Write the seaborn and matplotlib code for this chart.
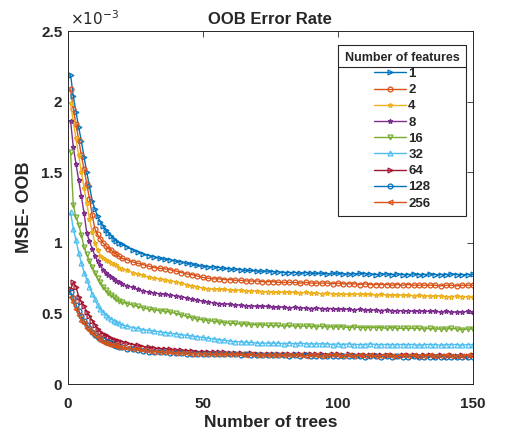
import pandas as pd
import seaborn as sns
import matplotlib.pyplot as plt
from matplotlib.lines import Line2D

# number of trees (dense at start, every 2nd tree afterwards)
trees = list(range(1, 21)) + list(range(22, 151, 2))

features = ['1', '2', '4', '8', '16', '32', '64', '128', '256']

# OOB MSE values in units of 1e-3
mse_1 = [2.19, 2.04, 1.93, 1.82, 1.72, 1.61, 1.50, 1.40, 1.30, 1.24, 1.19, 1.15, 1.12, 1.09, 1.07, 1.05, 1.03, 1.01, 1.00, 0.99,
         0.97, 0.95, 0.935, 0.92, 0.91, 0.90, 0.89, 0.885, 0.88, 0.87, 0.865, 0.855, 0.85,
         0.84, 0.835, 0.83, 0.83, 0.825, 0.82, 0.815, 0.815, 0.81, 0.805, 0.805, 0.80, 0.80,
         0.80, 0.795, 0.795, 0.79, 0.79, 0.79, 0.785, 0.79, 0.785, 0.785, 0.785, 0.78, 0.785,
         0.785, 0.78, 0.78, 0.78, 0.785, 0.78, 0.78, 0.775, 0.78, 0.78, 0.775, 0.78, 0.775,
         0.775, 0.78, 0.775, 0.775, 0.78, 0.775, 0.775, 0.775, 0.78, 0.775, 0.775, 0.775, 0.777]
mse_2 = [2.09, 1.95, 1.84, 1.73, 1.62, 1.52, 1.42, 1.31, 1.20, 1.10, 1.06, 1.03, 1.00, 0.98, 0.96, 0.95, 0.93, 0.92, 0.905, 0.89,
         0.88, 0.865, 0.855, 0.845, 0.835, 0.825, 0.82, 0.815, 0.81, 0.80, 0.79, 0.78, 0.775,
         0.765, 0.755, 0.75, 0.745, 0.745, 0.74, 0.74, 0.735, 0.735, 0.73, 0.73, 0.73, 0.725,
         0.725, 0.725, 0.72, 0.72, 0.72, 0.72, 0.715, 0.72, 0.715, 0.715, 0.715, 0.715, 0.71,
         0.715, 0.71, 0.71, 0.71, 0.705, 0.71, 0.705, 0.705, 0.705, 0.705, 0.70, 0.705, 0.70,
         0.705, 0.70, 0.70, 0.70, 0.70, 0.70, 0.695, 0.70, 0.70, 0.695, 0.70, 0.70, 0.70]
mse_4 = [1.99, 1.86, 1.74, 1.62, 1.50, 1.39, 1.28, 1.17, 1.08, 1.00, 0.95, 0.91, 0.89, 0.88, 0.87, 0.86, 0.85, 0.84, 0.825, 0.815,
         0.805, 0.79, 0.78, 0.77, 0.755, 0.75, 0.745, 0.74, 0.73, 0.725, 0.715, 0.705, 0.695,
         0.69, 0.68, 0.675, 0.675, 0.67, 0.67, 0.665, 0.665, 0.665, 0.66, 0.66, 0.66, 0.655,
         0.655, 0.655, 0.65, 0.65, 0.65, 0.65, 0.645, 0.65, 0.645, 0.645, 0.64, 0.645, 0.64,
         0.64, 0.64, 0.635, 0.64, 0.635, 0.635, 0.635, 0.63, 0.635, 0.63, 0.63, 0.63, 0.63,
         0.63, 0.625, 0.63, 0.625, 0.625, 0.625, 0.625, 0.62, 0.62, 0.625, 0.62, 0.62, 0.62]
mse_8 = [1.865, 1.68, 1.56, 1.445, 1.33, 1.21, 1.07, 1.01, 0.96, 0.91, 0.87, 0.84, 0.81, 0.79, 0.77, 0.76, 0.745, 0.73, 0.72, 0.71,
         0.695, 0.685, 0.67, 0.66, 0.65, 0.645, 0.64, 0.635, 0.63, 0.625, 0.62, 0.61, 0.60,
         0.595, 0.585, 0.58, 0.575, 0.57, 0.57, 0.565, 0.56, 0.56, 0.555, 0.555, 0.55, 0.55,
         0.55, 0.545, 0.545, 0.545, 0.54, 0.545, 0.54, 0.54, 0.535, 0.54, 0.535, 0.535, 0.535,
         0.53, 0.53, 0.53, 0.525, 0.53, 0.525, 0.525, 0.525, 0.52, 0.525, 0.52, 0.52, 0.52,
         0.52, 0.515, 0.52, 0.515, 0.515, 0.515, 0.51, 0.515, 0.51, 0.51, 0.51, 0.515, 0.51]
mse_16 = [1.645, 1.27, 1.18, 1.13, 1.055, 0.97, 0.92, 0.87, 0.83, 0.79, 0.75, 0.72, 0.69, 0.665, 0.645, 0.63, 0.615, 0.60, 0.59, 0.58,
          0.57, 0.56, 0.55, 0.54, 0.53, 0.525, 0.52, 0.515, 0.51, 0.50, 0.49, 0.48, 0.47,
          0.46, 0.455, 0.45, 0.445, 0.44, 0.435, 0.43, 0.43, 0.425, 0.425, 0.42, 0.42, 0.42,
          0.415, 0.415, 0.415, 0.41, 0.415, 0.41, 0.41, 0.41, 0.41, 0.405, 0.41, 0.405, 0.405,
          0.405, 0.405, 0.40, 0.405, 0.40, 0.40, 0.40, 0.40, 0.40, 0.395, 0.40, 0.395, 0.395,
          0.395, 0.395, 0.395, 0.39, 0.395, 0.39, 0.39, 0.39, 0.395, 0.39, 0.385, 0.39, 0.39]
mse_32 = [1.22, 1.10, 1.02, 0.93, 0.86, 0.79, 0.74, 0.69, 0.64, 0.60, 0.56, 0.53, 0.51, 0.49, 0.475, 0.46, 0.45, 0.44, 0.43, 0.42,
          0.41, 0.40, 0.395, 0.385, 0.38, 0.375, 0.37, 0.365, 0.36, 0.355, 0.35, 0.345, 0.34,
          0.335, 0.33, 0.325, 0.32, 0.315, 0.31, 0.305, 0.30, 0.30, 0.295, 0.295, 0.29, 0.29,
          0.29, 0.29, 0.29, 0.285, 0.29, 0.285, 0.29, 0.285, 0.285, 0.285, 0.285, 0.285, 0.28,
          0.285, 0.28, 0.285, 0.28, 0.28, 0.28, 0.285, 0.28, 0.28, 0.28, 0.28, 0.28, 0.28,
          0.28, 0.28, 0.275, 0.28, 0.28, 0.28, 0.275, 0.28, 0.28, 0.28, 0.275, 0.28, 0.28]
mse_64 = [0.67, 0.72, 0.69, 0.62, 0.58, 0.55, 0.51, 0.48, 0.45, 0.42, 0.39, 0.37, 0.355, 0.345, 0.335, 0.325, 0.315, 0.31, 0.305, 0.30,
          0.29, 0.28, 0.275, 0.265, 0.26, 0.255, 0.25, 0.25, 0.245, 0.24, 0.24, 0.235, 0.235,
          0.23, 0.23, 0.23, 0.225, 0.225, 0.225, 0.22, 0.22, 0.22, 0.215, 0.22, 0.215, 0.215,
          0.215, 0.215, 0.21, 0.215, 0.21, 0.21, 0.21, 0.21, 0.21, 0.21, 0.21, 0.205, 0.21,
          0.21, 0.205, 0.21, 0.205, 0.205, 0.205, 0.205, 0.205, 0.205, 0.205, 0.205, 0.20, 0.205,
          0.205, 0.205, 0.20, 0.205, 0.205, 0.20, 0.205, 0.20, 0.205, 0.20, 0.205, 0.20, 0.205]
mse_128 = [0.65, 0.61, 0.56, 0.52, 0.48, 0.45, 0.42, 0.40, 0.37, 0.35, 0.335, 0.32, 0.31, 0.30, 0.295, 0.29, 0.28, 0.27, 0.265, 0.26,
           0.25, 0.245, 0.24, 0.235, 0.23, 0.23, 0.225, 0.225, 0.22, 0.22, 0.22, 0.215, 0.215,
           0.215, 0.215, 0.21, 0.21, 0.21, 0.21, 0.21, 0.21, 0.205, 0.21, 0.205, 0.205, 0.205,
           0.205, 0.205, 0.205, 0.205, 0.20, 0.205, 0.20, 0.205, 0.20, 0.20, 0.20, 0.20, 0.20,
           0.20, 0.20, 0.20, 0.20, 0.20, 0.195, 0.20, 0.20, 0.195, 0.20, 0.195, 0.20, 0.195,
           0.195, 0.20, 0.195, 0.195, 0.195, 0.195, 0.195, 0.195, 0.195, 0.195, 0.19, 0.195, 0.195]
mse_256 = [0.62, 0.58, 0.53, 0.49, 0.45, 0.43, 0.40, 0.38, 0.36, 0.345, 0.33, 0.315, 0.30, 0.29, 0.285, 0.28, 0.275, 0.27, 0.265, 0.26,
           0.255, 0.25, 0.245, 0.24, 0.235, 0.23, 0.23, 0.225, 0.225, 0.22, 0.22, 0.22, 0.215,
           0.215, 0.215, 0.215, 0.21, 0.21, 0.21, 0.21, 0.21, 0.21, 0.205, 0.21, 0.205, 0.205,
           0.205, 0.205, 0.205, 0.205, 0.205, 0.205, 0.205, 0.20, 0.205, 0.205, 0.20, 0.205, 0.205,
           0.205, 0.20, 0.205, 0.20, 0.205, 0.20, 0.205, 0.20, 0.20, 0.205, 0.20, 0.20, 0.205,
           0.20, 0.205, 0.20, 0.20, 0.205, 0.20, 0.20, 0.205, 0.20, 0.20, 0.20, 0.205, 0.20]

series = [mse_1, mse_2, mse_4, mse_8, mse_16, mse_32, mse_64, mse_128, mse_256]

colors = ['#0072BD', '#D95319', '#EDB120', '#7E2F8E', '#77AC30',
          '#4DBEEE', '#A2142F', '#0072BD', '#D95319']
markers = ['>', 'o', '*', '*', 'v', '^', '>', 'o', '<']

sns.set_style('white')
plt.rcParams['font.family'] = ['Liberation Sans', 'DejaVu Sans']

fig, ax = plt.subplots(figsize=(5.22, 4.32), dpi=100)
fig.subplots_adjust(left=0.130, right=0.906, bottom=0.111, top=0.928)

handles = []
for f, vals, c, m in zip(features, series, colors, markers):
    d = pd.DataFrame({'trees': trees, 'mse': vals})
    sns.lineplot(data=d, x='trees', y='mse', color=c, marker=m, linestyle='-',
                 markersize=3.5, linewidth=1, markerfacecolor='none',
                 markeredgecolor=c, markeredgewidth=0.9, ax=ax)
    handles.append(ax.get_lines()[-1])

ax.set_xlim(0, 150)
ax.set_ylim(0, 2.5)
ax.set_xticks([0, 50, 100, 150])
ax.set_yticks([0, 0.5, 1, 1.5, 2, 2.5])
ax.set_yticklabels(['0', '0.5', '1', '1.5', '2', '2.5'])
ax.tick_params(direction='in', top=True, right=True, length=4, width=0.6,
               labelsize=11, colors='#262626')
ax.tick_params(axis='x', pad=9)
ax.tick_params(axis='y', pad=4)
for lab in ax.get_xticklabels() + ax.get_yticklabels():
    lab.set_fontweight('bold')
for s in ax.spines.values():
    s.set_color('#262626')
    s.set_linewidth(0.7)

ax.set_title('OOB Error Rate', fontsize=12, fontweight='bold', pad=5)
ax.set_xlabel('Number of trees', fontsize=12.5, fontweight='bold', labelpad=3)
ax.set_ylabel('MSE- OOB', fontsize=13, fontweight='bold', labelpad=6)
ax.text(0.005, 1.008, r'$\times10^{-3}$', transform=ax.transAxes,
        fontsize=11, ha='left', va='bottom', color='#262626')

leg = ax.legend(handles, features, title='Number of features',
                loc='upper right', bbox_to_anchor=(0.983, 0.960),
                borderaxespad=0, fancybox=False, framealpha=1,
                edgecolor='#262626', prop={'weight': 'bold', 'size': 9.5},
                title_fontproperties={'weight': 'bold', 'size': 9},
                handlelength=2.4, labelspacing=0.3, handletextpad=0.2,
                borderpad=0.5)
leg.get_frame().set_linewidth(0.8)

# separator under the legend title
fig.canvas.draw()
lb = leg.get_window_extent()
tb = leg.get_title().get_window_extent()
inv = fig.transFigure.inverted()
(x0, y0), (x1, _) = inv.transform([(lb.x0, tb.y0 - 3), (lb.x1, tb.y0 - 3)])
fig.add_artist(Line2D([x0, x1], [y0, y0], color='#262626', lw=0.8))

fig.savefig('out.png', dpi=100)
